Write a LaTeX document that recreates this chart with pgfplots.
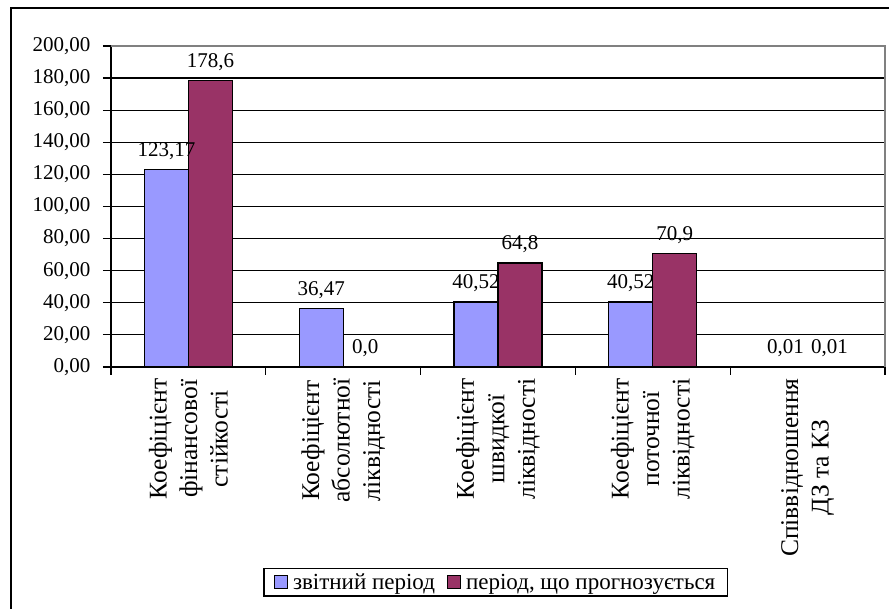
\documentclass[border=0pt]{standalone}
\usepackage{pgfplots}
\pgfplotsset{compat=1.18}
\usepackage{fontspec}
\setmainfont{Liberation Serif}
\definecolor{barblue}{HTML}{9999FF}
\definecolor{barplum}{HTML}{993366}
\definecolor{frame}{HTML}{808080}
\newcommand{\chartfont}{\fontsize{21}{25}\selectfont}
\newcommand{\catfont}{\fontsize{25.5}{30.5}\selectfont}
\newcommand{\legfont}{\fontsize{23}{27}\selectfont}

\begin{document}
\begin{tikzpicture}[x=1pt,y=1pt]
\useasboundingbox (0,0) rectangle (889,609);
\clip (0,0) rectangle (889,609);
% outer chart frame
\draw[line width=2pt] (11,-20) -- (11,601) -- (910,601) -- (910,-20);
\begin{axis}[
  name=ax,
  at={(111pt,242pt)}, anchor=south west,
  scale only axis, width=774pt, height=321pt,
  ybar=0pt, bar width=44pt,
  xmin=-0.5, xmax=4.5, ymin=0, ymax=200,
  ytick={0,20,40,60,80,100,120,140,160,180,200},
  xtick={0,1,2,3,4},
  xticklabels={{Коефіцієнт\\фінансової\\стійкості},
               {Коефіцієнт\\абсолютної\\ліквідності},
               {Коефіцієнт\\швидкої\\ліквідності},
               {Коефіцієнт\\поточної\\ліквідності},
               {Співвідношення\\ДЗ та КЗ}},
  minor xtick={-0.5,0.5,1.5,2.5,3.5,4.5},
  tick pos=left,
  tick align=outside,
  major tick length=8pt, minor tick length=8pt,
  every major x tick/.append style={draw=none},
  every minor x tick/.append style={black, line width=1.2pt},
  every major y tick/.append style={black, line width=1.2pt},
  ymajorgrids=true,
  major grid style={black, line width=1.2pt},
  axis line style={black, line width=1.5pt},
  /pgf/number format/.cd, fixed, fixed zerofill, precision=2, use comma,
    1000 sep={}, assume math mode=true,
  /pgfplots/.cd,
  yticklabel style={font=\chartfont, xshift=-9pt},
  xticklabel style={rotate=90, anchor=east, align=center, font=\catfont},
  nodes near coords,
  point meta=explicit symbolic,
  every node near coord/.append style={font=\chartfont, black, yshift=6pt},
  legend columns=2,
  legend style={at={(0.497,-0.671)}, anchor=center, draw=black,
    line width=1.2pt, font=\legfont, inner xsep=10pt, inner ysep=3pt,
    nodes={inner sep=2pt},
    /tikz/every odd column/.append style={column sep=3pt},
    /tikz/every even column/.append style={column sep=10pt}},
  legend image code/.code={
    \draw[#1, draw=black, line width=1pt] (0pt,-6pt) rectangle (13pt,7pt);},
]
\addplot[fill=barblue, draw=black, line width=1.2pt] coordinates {
  (0,123.17) [123,17]
  (1,36.47)  [36,47]
  (2,40.52)  [40,52]
  (3,40.52)  [40,52]
  (4,0.01)   [0,01]
};
\addplot[fill=barplum, draw=black, line width=1.2pt] coordinates {
  (0,178.6) [178,6]
  (1,0.0)   [0,0]
  (2,64.8)  [64,8]
  (3,70.9)  [70,9]
  (4,0.01)  [0,01]
};
\legend{звітний період, {період, що прогнозується}}
\end{axis}
% plot-area border on top and right
\draw[frame, line width=1.5pt] (ax.north west) -- (ax.north east) -- (ax.south east);
\end{tikzpicture}
\end{document}
